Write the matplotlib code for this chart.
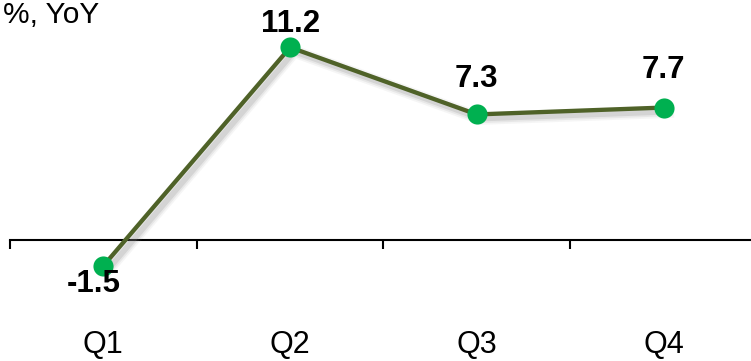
import matplotlib
matplotlib.use("Agg")
import matplotlib.pyplot as plt
import matplotlib.patheffects as pe
from matplotlib.transforms import blended_transform_factory

plt.rcParams['font.family'] = ['Liberation Sans', 'DejaVu Sans']

# data
quarters = ["Q1", "Q2", "Q3", "Q4"]
yoy = [-1.5, 11.2, 7.3, 7.7]
# label offsets (points) relative to each marker
label_dx = [-7, 0, 0, 0]
label_dy = [-19, 11, 19.5, 21]

line_col = '#4F6228'
dot_col = '#00B050'

fig = plt.figure(figsize=(7.51, 3.61), dpi=100)
ax = fig.add_axes([10 / 751, 0, 747 / 751, 1])

x = list(range(len(quarters)))
# soft shadow: a few wide faint strokes under the line
shadow = [pe.SimpleLineShadow(offset=(3, -3), shadow_color='#888888', alpha=a,
                              linewidth=w)
          for w, a in [(9, 0.08), (6.5, 0.12), (4, 0.2)]]
ax.plot(x, yoy, color=line_col, lw=3.1, zorder=3,
        path_effects=shadow + [pe.Normal()])
ax.plot(x, yoy, ls='none', marker='o', ms=14.5, mfc=dot_col, mec=dot_col,
        mew=0, zorder=4)

for xi, v, dx, dy in zip(x, yoy, label_dx, label_dy):
    ax.annotate(f"{v:.1f}", (xi, v), xytext=(dx, dy), textcoords='offset points',
                ha='center', va='baseline', fontsize=22.5, fontweight='bold',
                color='black', zorder=5)

# category labels below the chart
tr = blended_transform_factory(ax.transData, ax.transAxes)
for xi, q in zip(x, quarters):
    ax.text(xi, 1 / 361, q, transform=tr, ha='center', va='bottom',
            fontsize=22, color='black')

ax.set_xlim(-0.5, 3.5)
ax.set_ylim(-121 / 17.2, 240 / 17.2)

# axis at zero with boundary ticks
for s in ['top', 'right', 'left']:
    ax.spines[s].set_visible(False)
ax.spines['bottom'].set_position(('data', 0))
ax.spines['bottom'].set_linewidth(1.5)
ax.set_xticks([-0.5, 0.5, 1.5, 2.5])
ax.set_xticklabels([])
ax.tick_params(axis='x', direction='out', length=6.5, width=1.5)
ax.set_yticks([])
ax.patch.set_alpha(0)

fig.text(3 / 751, (361 - 23) / 361, "%, YoY", ha='left', va='baseline',
         fontsize=21.5, color='black')

fig.savefig("out.png", dpi=100)
